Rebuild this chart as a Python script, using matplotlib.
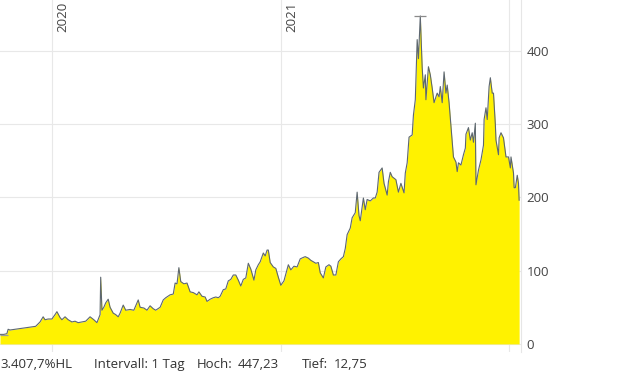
import matplotlib.pyplot as plt
import matplotlib.dates as mdates
import pandas as pd

plt.rcParams['font.family'] = ['Open Sans', 'DejaVu Sans']

# days since 2020-01-01 and closing price
days = [-83, -77, -72, -70, -67, -59, -51, -43, -35, -26, -19, -14, -11, -6, 0,
        5, 8, 13, 16, 21, 26, 32, 37, 42, 48, 54, 61, 67, 72, 77, 78, 80, 83, 86,
        90, 93, 98, 102, 106, 109, 114, 118, 125, 131, 138, 141, 147, 152, 157,
        162, 166, 173, 178, 182, 189, 194, 197, 200, 203, 206, 211, 216, 221, 226,
        232, 235, 240, 245, 248, 253, 258, 262, 266, 269, 274, 278, 282, 286, 290,
        294, 298, 302, 306, 310, 314, 318, 323, 326, 330, 333, 338, 341, 344, 346,
        349, 354, 358, 362, 366, 371, 378, 382, 387, 392, 397, 402, 405, 410, 414,
        418, 422, 426, 429, 434, 438, 443, 446, 450, 454, 458, 462, 466, 469, 472,
        477, 480, 485, 488, 491, 493, 498, 501, 504, 509, 514, 517, 520, 523, 528,
        531, 536, 538, 541, 544, 550, 554, 558, 563, 565, 568, 571, 576, 578, 581,
        584, 586, 589, 592, 594, 597, 598, 602, 605, 608, 611, 616, 619, 621, 624,
        627, 630, 632, 635, 640, 642, 646, 648, 650, 654, 658, 661, 662, 666, 669,
        672, 674, 677, 678, 682, 686, 690, 691, 694, 696, 699, 701, 704, 706, 709,
        710, 714, 715, 718, 722, 726, 730, 733, 734, 738, 739, 741, 744, 746, 747]
price = [13, 13, 14, 20, 19, 20, 21, 22, 23, 24, 30, 37, 33, 34, 34,
         40, 44, 36, 33, 37, 33, 30, 31, 29, 30, 31, 37, 33, 29, 40, 91, 46, 50, 56,
         61, 50, 42, 40, 37, 42, 53, 46, 47, 46, 60, 50, 49, 46, 52,
         48, 46, 50, 60, 63, 67, 68, 83, 82, 104, 85, 82, 83, 71, 70,
         67, 71, 65, 64, 58, 61, 63, 64, 63, 65, 74, 75, 86, 88, 94,
         94, 87, 79, 88, 90, 110, 102, 87, 101, 108, 112, 124, 120, 128, 128,
         111, 105, 103, 91, 80, 86, 108, 101, 106, 105, 116, 118, 119, 117, 114,
         112, 110, 111, 97, 90, 105, 108, 106, 94, 94, 112, 116, 119, 130, 149,
         158, 172, 179, 207, 175, 168, 199, 183, 197, 195, 199, 199, 207, 234, 240,
         219, 203, 221, 234, 228, 224, 207, 219, 206, 233, 247, 282, 285, 312, 333,
         415, 389, 447.23, 377, 349, 367, 333, 378, 367, 349, 329, 342, 337, 351, 329,
         371, 342, 353, 329, 275, 255, 248, 235, 247, 244, 258, 267, 286, 295, 278,
         288, 275, 301, 217, 237, 251, 271, 306, 322, 306, 351, 363, 342, 342, 299,
         278, 258, 281, 288, 281, 255, 255, 240, 255, 233, 213, 213, 230, 219, 196]

high = 447.23
low = 12.75
hl_text = "3.407,7%HL"
yticks = [0, 100, 200, 300, 400]
years = ["2020", "2021", "2022"]

base = pd.Timestamp("2020-01-01")
dates = [base + pd.Timedelta(days=d) for d in days]
high_date = dates[price.index(high)]

fig = plt.figure(figsize=(6.2, 3.72), dpi=100)
ax = fig.add_axes([0, 20 / 372, 521 / 620, 352 / 372])

ax.fill_between(dates, price, 0, color='#fff200', linewidth=0, zorder=2)
ax.plot(dates, price, color='#5d6770', linewidth=0.8, zorder=3)

# high / low markers
ax.hlines(high, high_date - pd.Timedelta(days=10), high_date + pd.Timedelta(days=9),
          color='#8a8a8a', linewidth=0.9, zorder=3)
ax.hlines(low, dates[0], dates[0] + pd.Timedelta(days=13),
          color='#9a9a9a', linewidth=0.9, zorder=3)

ax.set_xlim(base + pd.Timedelta(days=-83), base + pd.Timedelta(days=750))
ax.set_ylim(-11, 469)

for s in ax.spines.values():
    s.set_visible(False)
ax.spines['right'].set_visible(True)
ax.spines['right'].set_color('#e6e6e6')
ax.spines['right'].set_linewidth(0.8)

ax.set_yticks(yticks)
ax.set_yticklabels([str(v) for v in yticks])
ax.yaxis.tick_right()
ax.tick_params(axis='y', length=0, pad=4, labelsize=9.5, labelcolor='#444444')
ax.set_xticks([])
for v in yticks:
    ax.axhline(v, color='#e8e8e8', linewidth=0.8, zorder=1)

for y in years:
    d = pd.Timestamp(y + "-01-01")
    ax.axvline(d, color='#e8e8e8', linewidth=0.8, zorder=1)
    if y != years[-1]:
        ax.annotate(y, xy=(mdates.date2num(d), 1), xycoords=('data', 'axes fraction'),
                    xytext=(3.5, -1.5), textcoords='offset points', rotation=90,
                    ha='left', va='top', fontsize=9.5, color='#444444')

# footer
fs = 9.5
yb = 1 - 368 / 372
fig.text(0 / 620, yb, hl_text, fontsize=fs, color='#333333', va='baseline')
fig.text(94 / 620, yb, "Intervall: 1 Tag", fontsize=fs, color='#333333', va='baseline')
fig.text(197 / 620, yb, "Hoch:", fontsize=fs, color='#333333', va='baseline')
fig.text(238 / 620, yb, "447,23", fontsize=fs, color='#333333', va='baseline')
fig.text(302 / 620, yb, "Tief:", fontsize=fs, color='#333333', va='baseline')
fig.text(334 / 620, yb, "12,75", fontsize=fs, color='#333333', va='baseline')

fig.savefig("out.png", dpi=100)
